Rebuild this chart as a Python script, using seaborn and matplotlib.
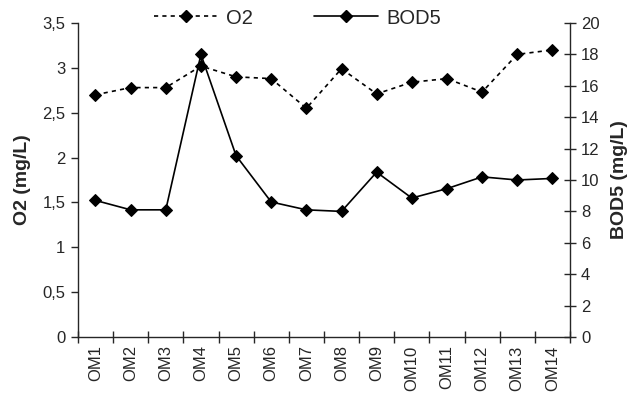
import numpy as np
import pandas as pd
import seaborn as sns
import matplotlib.pyplot as plt
from matplotlib.ticker import FixedLocator, FuncFormatter
from matplotlib.lines import Line2D

sites = ["OM1", "OM2", "OM3", "OM4", "OM5", "OM6", "OM7",
         "OM8", "OM9", "OM10", "OM11", "OM12", "OM13", "OM14"]
o2 = [2.70, 2.78, 2.78, 3.02, 2.90, 2.88, 2.55,
      2.99, 2.71, 2.84, 2.88, 2.73, 3.15, 3.20]
bod5 = [8.7, 8.1, 8.1, 18.0, 11.55, 8.6, 8.1,
        8.0, 10.5, 8.85, 9.45, 10.2, 10.0, 10.1]

df = pd.DataFrame({"site": sites, "O2": o2, "BOD5": bod5})
df["pos"] = np.arange(len(sites))

sns.set_style("ticks")
plt.rcParams["font.family"] = ["Liberation Sans", "DejaVu Sans"]

fig = plt.figure(figsize=(6.44, 4.0), dpi=100)
ax = fig.add_axes([0.121, 0.1575, 0.764, 0.785])
ax2 = ax.twinx()

dots = (0, (2.5, 2.5))
sns.lineplot(data=df, x="pos", y="O2", ax=ax, color="black", lw=1.2,
             linestyle=dots, marker="D", markersize=6.5,
             markeredgecolor="black", markerfacecolor="black")
sns.lineplot(data=df, x="pos", y="BOD5", ax=ax2, color="black", lw=1.2,
             marker="D", markersize=6.5,
             markeredgecolor="black", markerfacecolor="black")

ax.set_xlim(-0.5, len(sites) - 0.5)
ax.set_ylim(0, 3.5)
ax2.set_ylim(0, 20)
ax.set_yticks(np.arange(0, 3.51, 0.5))
ax2.set_yticks(np.arange(0, 21, 2))
ax.yaxis.set_major_formatter(FuncFormatter(lambda v, p: ("%g" % v).replace(".", ",")))

ax.set_xticks(df["pos"])
ax.set_xticklabels(sites, rotation=90)
ax.xaxis.set_minor_locator(FixedLocator(np.arange(-0.5, len(sites), 1)))
ax.tick_params(axis="x", which="major", length=0, labelsize=12, pad=6)
ax.tick_params(axis="x", which="minor", length=8, direction="inout", width=1)
ax.tick_params(axis="y", length=5, width=1, labelsize=12, pad=4)
ax2.tick_params(axis="y", length=8, direction="inout", width=1, labelsize=12, pad=4)

ax.set_xlabel("")
ax.set_ylabel("O2 (mg/L)", fontsize=14, fontweight="bold", labelpad=8)
ax2.set_ylabel("BOD5 (mg/L)", fontsize=14, fontweight="bold", labelpad=8)

for a in (ax, ax2):
    a.spines["top"].set_visible(False)
    for s in ("left", "right", "bottom"):
        a.spines[s].set_linewidth(1)
ax.spines["right"].set_visible(False)
ax2.spines["left"].set_visible(False)
ax2.spines["bottom"].set_visible(False)

handles = [
    Line2D([], [], color="black", lw=1.2, linestyle=dots,
           marker="D", markersize=6.5),
    Line2D([], [], color="black", lw=1.2, marker="D", markersize=6.5),
]
fig.legend(handles, ["O2", "BOD5"], loc="center left", bbox_to_anchor=(0.239, 0.955),
           ncol=2, frameon=False, fontsize=14.5, handlelength=3.2,
           columnspacing=3.0, handletextpad=0.4, borderpad=0, borderaxespad=0)

fig.savefig("out.png", dpi=100)
